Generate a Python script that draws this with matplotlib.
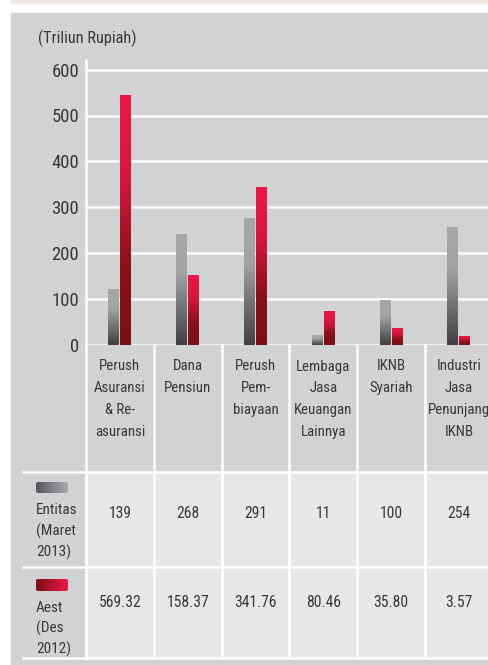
import matplotlib
matplotlib.use("Agg")
import matplotlib.pyplot as plt
import numpy as np
from matplotlib import font_manager
from matplotlib.colors import LinearSegmentedColormap
from matplotlib.font_manager import FontProperties
from matplotlib.patches import Rectangle, FancyBboxPatch
from matplotlib.textpath import TextPath

categories = [
    "Perush\nAsuransi\n& Re-\nasuransi",
    "Dana\nPensiun",
    "Perush\nPem-\nbiayaan",
    "Lembaga\nJasa\nKeuangan\nLainnya",
    "IKNB\nSyariah",
    "Industri\nJasa\nPenunjang\nIKNB",
]
# bar heights as drawn (the bars don't all agree with the table below them)
entitas_bar = [122, 240, 275, 20, 96, 255]
aset_bar = [544, 151, 344, 74, 35, 18]
# values printed in the table
entitas_table = [139, 268, 291, 11, 100, 254]
aset_table = [569.32, 158.37, 341.76, 80.46, 35.80, 3.57]
yticks = [0, 100, 200, 300, 400, 500, 600]
unit_label = "(Triliun Rupiah)"
legend_labels = ["Entitas\n(Maret\n2013)", "Aest\n(Des\n2012)"]


def pick_font():
    # the original uses a condensed face; take one if the machine has it
    fl = font_manager.fontManager.ttflist
    names = {f.name for f in fl}
    for n in ["Liberation Sans Narrow", "Roboto Condensed", "Open Sans Condensed",
              "Noto Sans Condensed", "DejaVu Sans Condensed", "Arial Narrow"]:
        if n in names:
            return n, "normal"
    for f in fl:
        if f.stretch in ("condensed", "semi-condensed") and f.style == "normal" and f.weight in (400, "normal", "regular"):
            return f.name, f.stretch
    return "Roboto", "normal"


FONT, STRETCH = pick_font()
plt.rcParams["font.family"] = [FONT, "DejaVu Sans"]
plt.rcParams["font.stretch"] = STRETCH
PROP = FontProperties(family=FONT, stretch=STRETCH)


def fit_size(sample, width_px):
    # font size (pt) that makes `sample` about width_px wide at dpi 100
    w = TextPath((0, 0), sample, size=10, prop=PROP).get_extents().width * 100 / 72
    return 10 * width_px / w


TXT = "#38383a"
PANEL = "#d1d2d4"
CELL = "#e6e7e8"

FS_UNIT = min(fit_size(unit_label, 97), 13)
FS_TICK = min(fit_size("600", 26), 13.5)
FS_CAT = min(fit_size("Penunjang", 60), fit_size("Keuangan", 59), 12.5)
FS_VAL = min(fit_size("569.32", 41), 12.5)
FS_LEG = min(fit_size("Entitas", 40), 12.5)

# layout in pixels
W, H = 489, 665
AX_L, AX_T, AX_B = 86, 60, 345
COL_W = 67.8
ROW1, ROW2, TBL_END = 472, 567, 658
LW = 1.8

fig = plt.figure(figsize=(W / 100, H / 100), dpi=100)
fig.patch.set_facecolor("white")

bg = fig.add_axes([0, 0, 1, 1], zorder=0)
bg.add_patch(Rectangle((11, 0), W, 3, color="#efe8dc"))
bg.add_patch(Rectangle((11, 13), W, H, color=PANEL))
bg.text(38, 38, unit_label, ha="left", va="center", fontsize=FS_UNIT, color=TXT)

# table cells
for top, bottom in [(ROW1, ROW2), (ROW2, TBL_END)]:
    for i in range(len(categories)):
        bg.add_patch(Rectangle((AX_L + i * COL_W, top), COL_W, bottom - top, color=CELL, zorder=1))

for i in range(1, len(categories)):
    x = AX_L + i * COL_W
    bg.plot([x, x], [AX_B, TBL_END], color="white", lw=LW, zorder=2)
bg.plot([AX_L - 0.5, AX_L - 0.5], [AX_B, TBL_END], color="white", lw=LW, zorder=2)
for y in (ROW1, ROW2, TBL_END):
    bg.plot([23, W], [y, y], color="white", lw=LW, zorder=2)

for i, cat in enumerate(categories):
    cx = AX_L + (i + 0.5) * COL_W
    for k, line in enumerate(cat.split("\n")):
        bg.text(cx, 365 + k * 21.7, line, ha="center", va="center_baseline", fontsize=FS_CAT, color=TXT, zorder=3)
    bg.text(cx, 512, f"{entitas_table[i]}", ha="center", va="center_baseline", fontsize=FS_VAL, color=TXT, zorder=3)
    bg.text(cx, 601, f"{aset_table[i]:.2f}", ha="center", va="center_baseline", fontsize=FS_VAL, color=TXT, zorder=3)

gray_cmap = LinearSegmentedColormap.from_list("g", [(0, "#404042"), (0.65, "#a2a3a5"), (1, "#a6a7a9")])
red_cmap = LinearSegmentedColormap.from_list(
    "r", [(0, "#7b1016"), (0.3, "#87111a"), (0.68, "#d8163d"), (1, "#ee1646")])
gray_swatch = LinearSegmentedColormap.from_list("gs", ["#55565a", "#a9aaac"])
red_swatch = LinearSegmentedColormap.from_list("rs", ["#7a1016", "#ee1646"])

# legend swatches + labels
hgrad = np.linspace(0, 1, 256)[None, :]
for (y0, y1), cmap, label, ty in [((482, 493), gray_swatch, legend_labels[0], 509),
                                  ((579, 591), red_swatch, legend_labels[1], 606)]:
    box = FancyBboxPatch((36, y0), 32, y1 - y0, boxstyle="round,pad=0,rounding_size=2",
                         facecolor="none", edgecolor="none", zorder=3)
    bg.add_patch(box)
    im = bg.imshow(hgrad, extent=(36, 68, y1, y0), aspect="auto", cmap=cmap, zorder=3)
    im.set_clip_path(box)
    for k, line in enumerate(label.split("\n")):
        bg.text(36, ty + k * 21, line, ha="left", va="center_baseline", fontsize=FS_LEG, color=TXT, zorder=3)
bg.set_xlim(0, W)
bg.set_ylim(H, 0)
bg.axis("off")

# bar chart
ax = fig.add_axes([AX_L / W, 1 - AX_B / H, len(categories) * COL_W / W, (AX_B - AX_T) / H], zorder=1)
ax.set_facecolor("none")
x = np.arange(len(categories))
bw = 0.162
gray_bars = ax.bar(x - 0.089, entitas_bar, bw, color="none")
red_bars = ax.bar(x + 0.089, aset_bar, bw, color="none")

vgrad = np.linspace(0, 1, 256)[:, None]
for bars, cmap in [(gray_bars, gray_cmap), (red_bars, red_cmap)]:
    for rect in bars:
        x0, w, h = rect.get_x(), rect.get_width(), rect.get_height()
        ax.imshow(vgrad, extent=(x0, x0 + w, 0, h), origin="lower", aspect="auto",
                  cmap=cmap, zorder=3, interpolation="bilinear")

ax.set_xlim(-0.5, len(categories) - 0.5)
ax.set_ylim(0, (AX_B - AX_T) / 45.9 * 100)
ax.set_yticks(yticks)
ax.set_xticks([])
ax.yaxis.grid(True, color="white", lw=LW)
ax.set_axisbelow(True)
ax.tick_params(axis="y", length=0, pad=5, labelsize=FS_TICK, labelcolor=TXT)
for side in ("top", "right", "bottom"):
    ax.spines[side].set_visible(False)
ax.spines["left"].set_color("white")
ax.spines["left"].set_linewidth(LW)

fig.savefig("out.png", dpi=100)
